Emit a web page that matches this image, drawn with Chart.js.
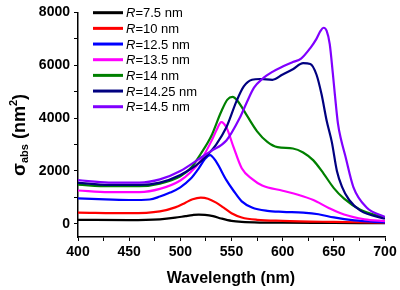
<!DOCTYPE html>
<html>
<head>
<meta charset="utf-8">
<script src="https://cdn.jsdelivr.net/npm/chart.js@4.4.0/dist/chart.umd.min.js"></script>
<style>
  html, body { margin: 0; padding: 0; background: #fff; }
</style>
</head>
<body>
<canvas id="chart" width="400" height="290"></canvas>
<script>
// absorption cross-section spectra
const radiusLabels = ["7.5", "10", "12.5", "13.5", "14", "14.25", "14.5"];
const lineColors = ["#000000", "#ff0000", "#0000ff", "#ff00ff", "#008000", "#000080", "#8000ff"];

const wl75 = [400, 450, 480, 495, 505, 512, 518, 524, 532, 540, 550, 560, 580, 600, 650, 700];
const abs75 = [150, 140, 170, 230, 290, 330, 350, 340, 290, 200, 110, 70, 45, 40, 30, 20];

const wl10 = [400, 450, 480, 495, 505, 512, 520, 527, 535, 542, 550, 560, 575, 600, 650, 700];
const abs10 = [420, 400, 470, 620, 800, 930, 990, 950, 800, 620, 400, 240, 150, 110, 70, 40];

const wl125 = [400, 420, 450, 470, 480, 490, 500, 510, 518, 524, 529, 535, 545, 552, 560, 570, 585, 600, 620, 635, 650, 670, 700];
const abs125 = [960, 930, 900, 920, 1030, 1180, 1380, 1700, 2100, 2450, 2600, 2350, 1650, 1250, 850, 620, 490, 450, 420, 360, 240, 130, 50];

const wl135 = [400, 430, 460, 480, 500, 510, 520, 530, 536, 540, 545, 552, 560, 570, 580, 600, 615, 630, 645, 660, 680, 700];
const abs135 = [1260, 1200, 1200, 1320, 1640, 1950, 2400, 3100, 3600, 3850, 3650, 2900, 2100, 1700, 1450, 1250, 1100, 900, 600, 350, 170, 100];

const wl14 = [400, 430, 460, 480, 500, 510, 520, 530, 540, 546, 551, 556, 565, 575, 585, 595, 610, 620, 630, 640, 650, 660, 675, 700];
const abs14 = [1480, 1420, 1420, 1520, 1800, 2100, 2650, 3300, 4250, 4700, 4800, 4650, 4100, 3500, 3100, 2900, 2850, 2700, 2400, 1900, 1350, 950, 550, 230];

const wl1425 = [400, 430, 460, 480, 500, 515, 525, 535, 545, 555, 562, 570, 578, 590, 600, 610, 620, 627, 633, 638, 643, 648, 653, 658, 665, 676, 700];
const abs1425 = [1550, 1470, 1470, 1560, 1850, 2200, 2550, 3000, 3650, 4650, 5200, 5450, 5480, 5450, 5650, 5850, 6080, 6050, 5650, 4900, 3900, 3100, 2000, 1400, 900, 500, 190];

const wl145 = [400, 430, 460, 480, 500, 520, 530, 545, 558, 565, 572, 580, 590, 600, 610, 618, 627, 633, 637, 640, 643, 646, 649, 651, 654, 657, 661, 669, 682, 700];
const abs145 = [1650, 1560, 1560, 1680, 2000, 2500, 2750, 3150, 4000, 4600, 5150, 5480, 5750, 5950, 6120, 6250, 6650, 7000, 7300, 7420, 7300, 6800, 5700, 4900, 3800, 3200, 2600, 1400, 620, 260];

const xTicks = [400, 450, 500, 550, 600, 650, 700];
const yTicks = [0, 2000, 4000, 6000, 8000];

const wlSets = [wl75, wl10, wl125, wl135, wl14, wl1425, wl145];
const absSets = [abs75, abs10, abs125, abs135, abs14, abs1425, abs145];

const datasets = radiusLabels.map((r, i) => ({
  label: "R=" + r + " nm",
  data: wlSets[i].map((w, j) => ({ x: w, y: absSets[i][j] })),
  borderColor: lineColors[i],
  backgroundColor: lineColors[i],
  borderWidth: 2.2,
  pointRadius: 0,
  cubicInterpolationMode: "monotone",
  order: radiusLabels.length - i
}));

// major ticks plus the minor ones halfway between
const withMinor = (major) => {
  const out = [];
  major.forEach((v, i) => {
    out.push({ value: v });
    if (i < major.length - 1) out.push({ value: (v + major[i + 1]) / 2 });
  });
  return out;
};

// legend with italic R, and axis titles with sub/superscript
const decorations = {
  id: "decorations",
  afterDraw(chart) {
    const ctx = chart.ctx;
    ctx.save();
    ctx.textBaseline = "middle";
    radiusLabels.forEach((r, i) => {
      const y = 12.7 + i * 15.67;
      ctx.strokeStyle = lineColors[i];
      ctx.lineWidth = 3;
      ctx.beginPath();
      ctx.moveTo(93, y);
      ctx.lineTo(123, y);
      ctx.stroke();
      ctx.fillStyle = "#000";
      ctx.font = "italic 13px Arial, 'Liberation Sans'";
      ctx.textAlign = "left";
      ctx.fillText("R", 126, y + 1);
      const w = ctx.measureText("R").width;
      ctx.font = "13px Arial, 'Liberation Sans'";
      ctx.fillText("=" + r + " nm", 126 + w, y + 1);
    });

    // x title
    ctx.font = "bold 16px Arial, 'Liberation Sans'";
    ctx.textAlign = "center";
    ctx.textBaseline = "alphabetic";
    ctx.fillText("Wavelength (nm)", 231, 283);

    // y title, rotated
    ctx.translate(25, 176);
    ctx.rotate(-Math.PI / 2);
    ctx.textAlign = "left";
    let x = 0;
    const part = (txt, font, dy) => {
      ctx.font = font;
      ctx.fillText(txt, x, dy);
      x += ctx.measureText(txt).width;
    };
    part("\u03c3", "bold 19px Arial, 'Liberation Sans'", 0);
    part("abs", "bold 11px Arial, 'Liberation Sans'", 3);
    part(" (nm", "bold 18px Arial, 'Liberation Sans'", 0);
    part("2", "bold 11px Arial, 'Liberation Sans'", -8);
    part(")", "bold 18px Arial, 'Liberation Sans'", 0);
    ctx.restore();
  }
};

const tickFont = { family: "Arial, 'Liberation Sans'", size: 14, weight: "bold" };

new Chart(document.getElementById("chart"), {
  type: "line",
  data: { datasets: datasets },
  plugins: [decorations],
  options: {
    responsive: false,
    animation: false,
    devicePixelRatio: 1,
    layout: { padding: { top: 11, right: 15, left: 0, bottom: 0 } },
    plugins: { legend: { display: false }, tooltip: { enabled: false } },
    scales: {
      x: {
        type: "linear",
        min: 400,
        max: 700,
        afterFit: (s) => { s.height = 53; },
        afterBuildTicks: (s) => { s.ticks = withMinor(xTicks); },
        ticks: {
          color: "#000",
          font: tickFont,
          padding: 3,
          maxRotation: 0,
          autoSkip: false,
          callback: (v) => (xTicks.includes(v) ? v : "")
        },
        grid: { drawOnChartArea: false, drawTicks: true, tickLength: 4, color: "#000" },
        border: { display: true, color: "#000", width: 1.5 }
      },
      y: {
        type: "linear",
        min: -500,
        max: 8000,
        afterFit: (s) => { s.width = 78; },
        afterBuildTicks: (s) => { s.ticks = withMinor(yTicks); },
        ticks: {
          color: "#000",
          font: tickFont,
          padding: 4,
          autoSkip: false,
          callback: (v) => (yTicks.includes(v) ? v : "")
        },
        grid: { drawOnChartArea: false, drawTicks: true, tickLength: 4, color: "#000" },
        border: { display: true, color: "#000", width: 1.5 }
      }
    }
  }
});
</script>
</body>
</html>
